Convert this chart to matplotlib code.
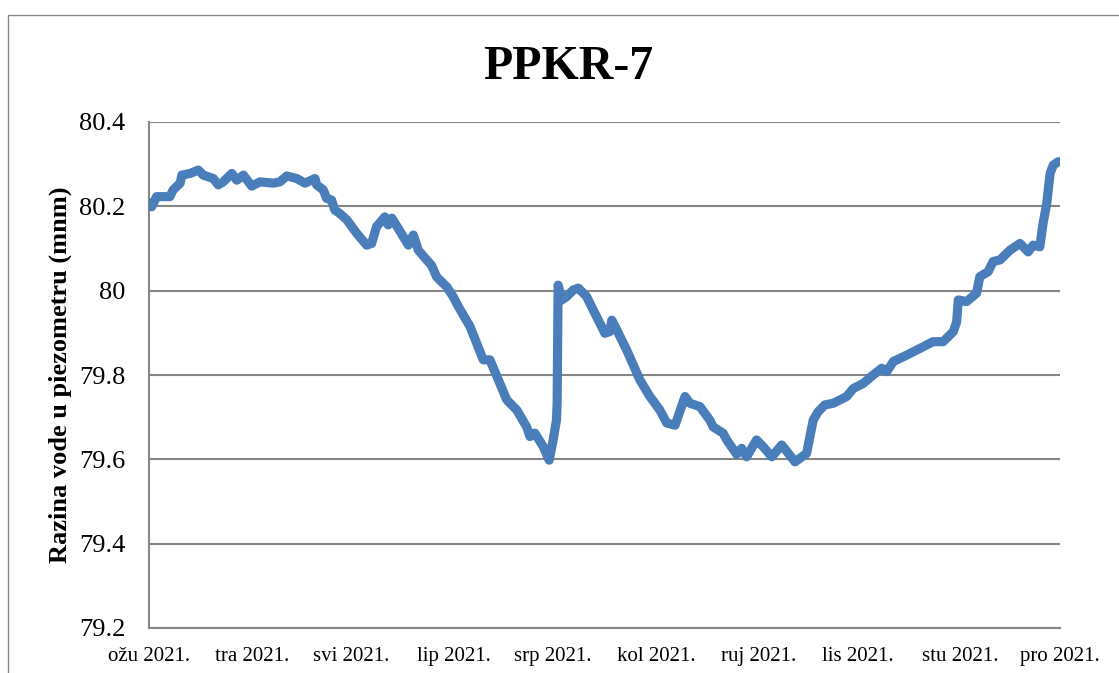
import numpy as np
import pandas as pd
import matplotlib
matplotlib.use("Agg")
import matplotlib.pyplot as plt
import matplotlib.dates as mdates
from matplotlib.ticker import FuncFormatter, FixedLocator
from matplotlib.patches import Rectangle

plt.rcParams['font.family'] = ['Liberation Serif', 'DejaVu Serif']

# ---- data ----
title = "PPKR-7"
y_label = "Razina vode u piezometru (mnm)"
start_date = "2021-03-01"
month_ticks = ["2021-03-01", "2021-04-01", "2021-05-01", "2021-06-01", "2021-07-01",
               "2021-08-01", "2021-09-01", "2021-10-01", "2021-11-01", "2021-12-01"]
month_labels = ["ožu 2021.", "tra 2021.", "svi 2021.", "lip 2021.", "srp 2021.",
                "kol 2021.", "ruj 2021.", "lis 2021.", "stu 2021.", "pro 2021."]
y_ticks = [79.2, 79.4, 79.6, 79.8, 80.0, 80.2, 80.4]

# days since 1 March 2021
day_offset = [0.3, 0.8, 2.3, 6.3, 7.3, 9.4, 9.9, 12.4, 14.9, 16.4, 19.4, 20.9, 22.4, 25.0,
              26.5, 28.5, 31.0, 33.5, 37.5, 39.5, 41.6, 44.6, 47.1, 50.1, 50.6, 52.6, 53.6,
              55.1, 56.1, 57.6, 59.7, 62.7, 65.7, 67.2, 68.7, 71.2, 72.2, 73.3, 75.2, 78.3,
              79.8, 81.3, 83.8, 85.3, 86.8, 87.8, 89.9, 91.8, 93.4, 96.9, 100.9, 102.9,
              105.9, 108.0, 111.0, 114.0, 115.0, 116.5, 119.0, 120.8, 122.0, 123.0, 123.2,
              123.5, 124.6, 126.1, 128.1, 129.6, 132.1, 134.1, 136.1, 137.6, 139.1, 139.7,
              141.2, 144.2, 148.2, 151.2, 154.2, 156.3, 158.8, 161.8, 163.3, 166.3, 169.3,
              170.3, 173.3, 174.4, 177.4, 178.9, 180.4, 183.4, 185.4, 188.0, 191.0, 195.0,
              198.5, 199.5, 200.5, 202.0, 204.0, 206.5, 208.6, 210.6, 212.6, 215.6, 218.6,
              221.2, 222.7, 224.7, 228.7, 232.7, 236.7, 239.7, 242.8, 243.8, 244.3, 246.8,
              249.8, 250.8, 253.3, 254.8, 256.9, 259.9, 262.9, 265.4, 266.9, 268.9, 269.9,
              271.0, 272.0, 273.0, 274.5]
water_level = [80.208, 80.199, 80.223, 80.223, 80.239, 80.255, 80.274, 80.278, 80.286, 80.274,
               80.266, 80.251, 80.258, 80.278, 80.262, 80.274, 80.248, 80.258, 80.255, 80.258,
               80.272, 80.266, 80.255, 80.266, 80.251, 80.239, 80.219, 80.215, 80.191, 80.183,
               80.168, 80.136, 80.108, 80.112, 80.152, 80.175, 80.156, 80.172, 80.148, 80.108,
               80.132, 80.096, 80.073, 80.060, 80.033, 80.025, 80.009, 79.986, 79.962, 79.915,
               79.836, 79.836, 79.780, 79.741, 79.717, 79.677, 79.654, 79.662, 79.630, 79.598,
               79.646, 79.693, 79.733, 80.013, 79.978, 79.986, 80.002, 80.006, 79.986, 79.954,
               79.923, 79.899, 79.903, 79.930, 79.907, 79.859, 79.788, 79.749, 79.717, 79.686,
               79.681, 79.749, 79.733, 79.725, 79.693, 79.677, 79.662, 79.646, 79.612, 79.626,
               79.606, 79.646, 79.630, 79.606, 79.634, 79.594, 79.614, 79.654, 79.693, 79.713,
               79.729, 79.733, 79.741, 79.749, 79.768, 79.780, 79.800, 79.816, 79.808, 79.832,
               79.847, 79.863, 79.879, 79.879, 79.903, 79.926, 79.978, 79.974, 79.994, 80.033,
               80.045, 80.069, 80.073, 80.096, 80.112, 80.092, 80.108, 80.104, 80.160, 80.207,
               80.278, 80.298, 80.306]

# ---- figure ----
W, H = 1119, 673
fig = plt.figure(figsize=(W / 100, H / 100), dpi=100)
fig.patch.set_facecolor('white')

# outer chart frame
fig.patches.append(Rectangle((8 / W, -0.1), 1.2, 1 - 15 / H + 0.1, transform=fig.transFigure,
                             fill=False, edgecolor='#868686', linewidth=1.0))

ax = fig.add_axes([149 / W, 1 - 628 / H, (1060 - 149) / W, (628 - 122) / H])

t0 = pd.Timestamp(start_date)
dates = t0 + pd.to_timedelta(np.array(day_offset), unit='D')
ax.plot(dates, water_level, color='#4A7EBB', linewidth=6.6,
        solid_joinstyle='round', solid_capstyle='round', zorder=3)

ax.set_xlim(pd.Timestamp(month_ticks[0]), pd.Timestamp(month_ticks[-1]))
ax.set_ylim(79.2, 80.4)

tick_pos = mdates.date2num(pd.to_datetime(month_ticks))
ax.xaxis.set_major_locator(FixedLocator(tick_pos))
ax.set_xticklabels(month_labels)
ax.set_yticks(y_ticks)
ax.yaxis.set_major_formatter(FuncFormatter(lambda v, p: f"{v:g}"))

ax.tick_params(axis='x', length=0, pad=14, labelsize=15)
ax.tick_params(axis='y', length=0, pad=17, labelsize=19)

ax.grid(axis='y', color='#868686', linewidth=1.5)
ax.set_axisbelow(True)
for s in ['top', 'right']:
    ax.spines[s].set_visible(False)
for s in ['left', 'bottom']:
    ax.spines[s].set_color('#868686')
    ax.spines[s].set_linewidth(1.5)

fig.text(568 / W, 1 - 79 / H, title, ha='center', va='baseline',
         fontsize=34.5, fontweight='bold')
fig.text(60 / W, 1 - 375 / H, y_label, ha='center', va='center', rotation=90,
         fontsize=19, fontweight='bold')

fig.savefig("out.png", dpi=100)
